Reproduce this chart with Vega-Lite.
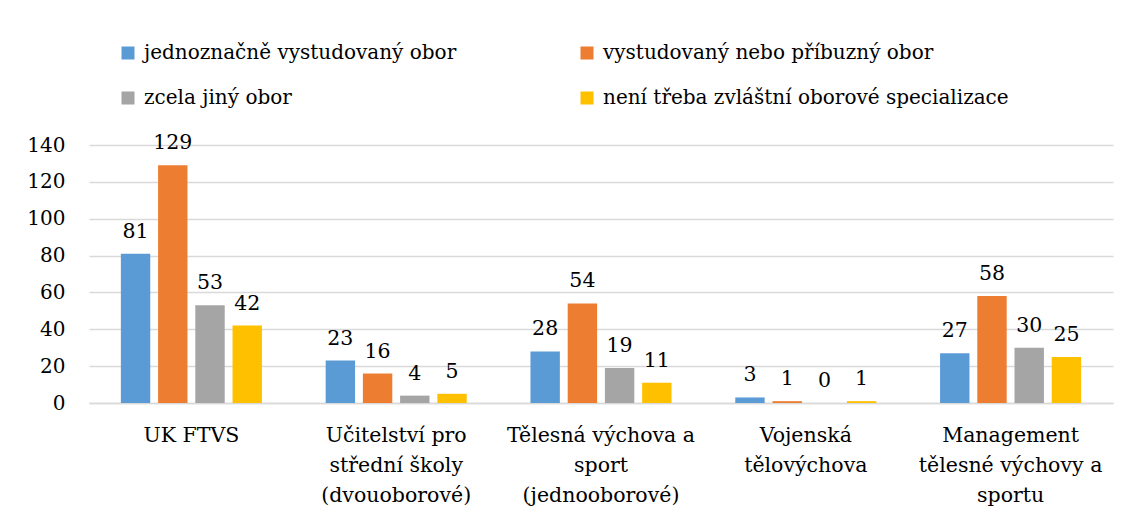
{
  "$schema": "https://vega.github.io/schema/vega-lite/v6.json",
  "width": 1024,
  "height": 258,
  "autosize": {"type": "none"},
  "padding": {"left": 89, "top": 145, "right": 16, "bottom": 115},
  "background": "white",
  "config": {
    "font": "DejaVu Serif",
    "view": {"stroke": null},
    "axis": {"labelFont": "DejaVu Serif", "labelColor": "#000000"},
    "legend": {"labelFont": "DejaVu Serif", "labelColor": "#000000"}
  },
  "data": {
    "values": [
      {"kategorie": "UK FTVS", "typ": "jednoznačně vystudovaný obor", "pocet": 81},
      {"kategorie": "UK FTVS", "typ": "vystudovaný nebo příbuzný obor", "pocet": 129},
      {"kategorie": "UK FTVS", "typ": "zcela jiný obor", "pocet": 53},
      {"kategorie": "UK FTVS", "typ": "není třeba zvláštní oborové specializace", "pocet": 42},
      {"kategorie": "Učitelství pro|střední školy|(dvouoborové)", "typ": "jednoznačně vystudovaný obor", "pocet": 23},
      {"kategorie": "Učitelství pro|střední školy|(dvouoborové)", "typ": "vystudovaný nebo příbuzný obor", "pocet": 16},
      {"kategorie": "Učitelství pro|střední školy|(dvouoborové)", "typ": "zcela jiný obor", "pocet": 4},
      {"kategorie": "Učitelství pro|střední školy|(dvouoborové)", "typ": "není třeba zvláštní oborové specializace", "pocet": 5},
      {"kategorie": "Tělesná výchova a|sport|(jednooborové)", "typ": "jednoznačně vystudovaný obor", "pocet": 28},
      {"kategorie": "Tělesná výchova a|sport|(jednooborové)", "typ": "vystudovaný nebo příbuzný obor", "pocet": 54},
      {"kategorie": "Tělesná výchova a|sport|(jednooborové)", "typ": "zcela jiný obor", "pocet": 19},
      {"kategorie": "Tělesná výchova a|sport|(jednooborové)", "typ": "není třeba zvláštní oborové specializace", "pocet": 11},
      {"kategorie": "Vojenská|tělovýchova", "typ": "jednoznačně vystudovaný obor", "pocet": 3},
      {"kategorie": "Vojenská|tělovýchova", "typ": "vystudovaný nebo příbuzný obor", "pocet": 1},
      {"kategorie": "Vojenská|tělovýchova", "typ": "zcela jiný obor", "pocet": 0},
      {"kategorie": "Vojenská|tělovýchova", "typ": "není třeba zvláštní oborové specializace", "pocet": 1},
      {"kategorie": "Management|tělesné výchovy a|sportu", "typ": "jednoznačně vystudovaný obor", "pocet": 27},
      {"kategorie": "Management|tělesné výchovy a|sportu", "typ": "vystudovaný nebo příbuzný obor", "pocet": 58},
      {"kategorie": "Management|tělesné výchovy a|sportu", "typ": "zcela jiný obor", "pocet": 30},
      {"kategorie": "Management|tělesné výchovy a|sportu", "typ": "není třeba zvláštní oborové specializace", "pocet": 25}
    ]
  },
  "encoding": {
    "x": {
      "field": "kategorie",
      "type": "nominal",
      "sort": null,
      "scale": {"paddingInner": 0.273, "paddingOuter": 0.1365},
      "axis": {
        "title": null,
        "labelAngle": 0,
        "labelExpr": "split(datum.label, '|')",
        "labelFontSize": 20.5,
        "labelLineHeight": 30,
        "labelPadding": 22,
        "labelLimit": 300,
        "ticks": false,
        "domain": true,
        "domainColor": "#d9d9d9",
        "domainWidth": 1.5,
        "labelBaseline": "top"
      }
    },
    "xOffset": {
      "field": "typ",
      "type": "nominal",
      "sort": ["jednoznačně vystudovaný obor", "vystudovaný nebo příbuzný obor", "zcela jiný obor", "není třeba zvláštní oborové specializace"],
      "scale": {"paddingInner": 0.21, "paddingOuter": 0.105}
    },
    "y": {
      "field": "pocet",
      "type": "quantitative",
      "scale": {"domain": [0, 140]},
      "axis": {
        "title": null,
        "values": [0, 20, 40, 60, 80, 100, 120, 140],
        "labelFontSize": 20,
        "labelPadding": 24,
        "ticks": false,
        "domain": false,
        "grid": true,
        "gridColor": "#d9d9d9",
        "gridWidth": 1.5
      }
    }
  },
  "layer": [
    {
      "mark": {"type": "bar"},
      "encoding": {
        "color": {
          "field": "typ",
          "type": "nominal",
          "sort": ["jednoznačně vystudovaný obor", "vystudovaný nebo příbuzný obor", "zcela jiný obor", "není třeba zvláštní oborové specializace"],
          "scale": {
            "domain": ["jednoznačně vystudovaný obor", "vystudovaný nebo příbuzný obor", "zcela jiný obor", "není třeba zvláštní oborové specializace"],
            "range": ["#5b9bd5", "#ed7d31", "#a5a5a5", "#ffc000"]
          },
          "legend": {
            "title": null,
            "orient": "none",
            "legendX": 29,
            "legendY": -102,
            "direction": "horizontal",
            "columns": 2,
            "columnPadding": 120,
            "rowPadding": 25,
            "symbolType": "square",
            "symbolSize": 169,
            "symbolStrokeWidth": 0,
            "labelFontSize": 20,
            "labelOffset": 6,
            "labelLimit": 500
          }
        }
      }
    },
    {
      "mark": {"type": "text", "baseline": "alphabetic", "dy": -16, "fontSize": 20.5, "color": "#000000", "font": "DejaVu Serif"},
      "encoding": {"text": {"field": "pocet", "type": "quantitative"}}
    }
  ]
}
